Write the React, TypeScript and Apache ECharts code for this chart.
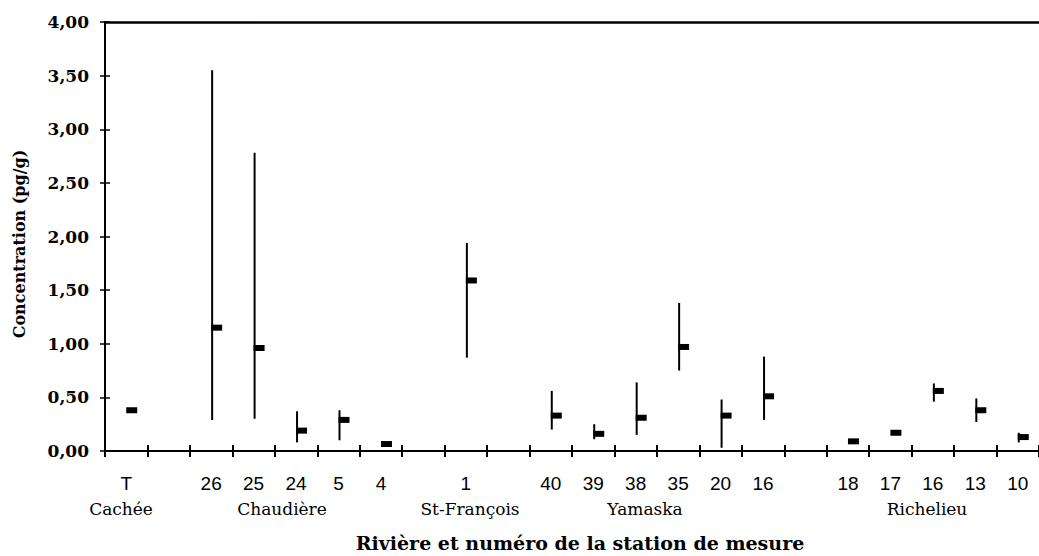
import React, { useEffect, useRef } from "react";
import * as echarts from "echarts";

// Station labels on the x axis (empty = gap slot)
const stations = ["T", "", "26", "25", "24", "5", "4", "", "1", "", "40", "39", "38", "35", "20", "16", "", "18", "17", "16", "13", "10"];
// Mean concentration (pg/g)
const means = [0.38, null, 1.15, 0.96, 0.19, 0.29, 0.065, null, 1.59, null, 0.33, 0.16, 0.31, 0.97, 0.33, 0.51, null, 0.09, 0.17, 0.56, 0.38, 0.13];
// Minimum and maximum (range)
const mins = [null, null, 0.29, 0.30, 0.08, 0.10, null, null, 0.87, null, 0.20, 0.11, 0.15, 0.75, 0.03, 0.29, null, null, null, 0.46, 0.27, 0.08];
const maxs = [null, null, 3.55, 2.78, 0.37, 0.38, null, null, 1.94, null, 0.56, 0.25, 0.64, 1.38, 0.48, 0.88, null, null, null, 0.63, 0.49, 0.17];
// River names
const rivers = ["Cachée", "Chaudière", "St-François", "Yamaska", "Richelieu"];
const yTicks = [0, 0.5, 1, 1.5, 2, 2.5, 3, 3.5, 4];

// layout (pixels)
const riverX = [121, 282, 470, 645, 927];
const GRID = { left: 105, top: 22, width: 944, height: 429 };

export default function App() {
  const ref = useRef<HTMLDivElement>(null);
  useEffect(() => {
    if (!ref.current) return;
    const chart = echarts.init(ref.current, null, { renderer: "svg" });
    const cats = stations.map((_, i) => "c" + i);
    const data: any[] = [];
    means.forEach((m, i) => {
      if (m == null) return;
      const lo = mins[i] == null ? m : mins[i];
      const hi = maxs[i] == null ? m : maxs[i];
      data.push([i, m, lo, hi]);
    });
    const serif = "'DejaVu Serif', 'Liberation Serif', serif";
    const sans = "'Liberation Sans', Arial, sans-serif";
    const baseX = {
      type: "category",
      data: cats,
      boundaryGap: true,
    };
    chart.setOption({
      animation: false,
      backgroundColor: "#fff",
      grid: { ...GRID, containLabel: false },
      xAxis: [
        {
          ...baseX,
          position: "bottom",
          axisLine: { show: true, lineStyle: { color: "#000", width: 2 } },
          axisTick: { show: true, inside: false, length: 6, lineStyle: { color: "#000", width: 2 }, interval: 0 },
          axisLabel: {
            interval: 0,
            margin: 23,
            color: "#000",
            fontFamily: sans,
            fontSize: 19,
            formatter: (_v: string, i: number) => stations[i],
          },
          splitLine: { show: false },
        },
        {
          ...baseX,
          position: "bottom",
          axisLine: { show: false },
          axisTick: { show: true, inside: true, length: 6, lineStyle: { color: "#000", width: 2 }, interval: 0 },
          axisLabel: { show: false },
          splitLine: { show: false },
        },
        {
          ...baseX,
          position: "top",
          axisLine: { show: true, lineStyle: { color: "#000", width: 2.5 } },
          axisTick: { show: false },
          axisLabel: { show: false },
          splitLine: { show: false },
        },
      ],
      yAxis: [
        {
          type: "value",
          min: yTicks[0],
          max: yTicks[yTicks.length - 1],
          interval: 0.5,
          axisLine: { show: true, lineStyle: { color: "#000", width: 2 } },
          axisTick: { show: true, inside: false, length: 5, lineStyle: { color: "#000", width: 1.5 } },
          axisLabel: {
            margin: 16,
            color: "#000",
            fontFamily: serif,
            fontWeight: "bold",
            fontSize: 17,
            formatter: (v: number) => v.toFixed(2).replace(".", ","),
          },
          splitLine: { show: false },
        },
        {
          type: "value",
          position: "left",
          min: yTicks[0],
          max: yTicks[yTicks.length - 1],
          interval: 0.5,
          axisLine: { show: false },
          axisTick: { show: true, inside: true, length: 5, lineStyle: { color: "#000", width: 1.5 } },
          axisLabel: { show: false },
          splitLine: { show: false },
        },
      ],
      graphic: [
        ...rivers.map((name, i) => ({
          type: "text",
          x: riverX[i],
          y: 509,
          style: {
            text: name,
            fill: "#000",
            font: `17px ${serif}`,
            textAlign: "center",
            textVerticalAlign: "middle",
          },
        })),
        {
          type: "text",
          x: 580,
          y: 543,
          style: {
            text: "Rivière et numéro de la station de mesure",
            fill: "#000",
            font: `bold 19px ${serif}`,
            textAlign: "center",
            textVerticalAlign: "middle",
          },
        },
        {
          type: "text",
          x: 19,
          y: 244,
          rotation: Math.PI / 2,
          style: {
            text: "Concentration (pg/g)",
            fill: "#000",
            font: `bold 16px ${serif}`,
            textAlign: "center",
            textVerticalAlign: "middle",
          },
        },
      ],
      series: [
        {
          type: "custom",
          xAxisIndex: 0,
          yAxisIndex: 0,
          data,
          clip: false,
          renderItem: (_params: any, api: any) => {
            const i = api.value(0);
            const m = api.value(1);
            const lo = api.value(2);
            const hi = api.value(3);
            const c = api.coord([i, m]);
            const children: any[] = [];
            if (hi > lo) {
              const p1 = api.coord([i, lo]);
              const p2 = api.coord([i, hi]);
              children.push({
                type: "line",
                shape: { x1: p1[0] + 1, y1: p1[1], x2: p2[0] + 1, y2: p2[1] },
                style: { stroke: "#000", lineWidth: 2 },
              });
            }
            children.push({
              type: "rect",
              shape: { x: c[0], y: c[1] - 3, width: 11, height: 6 },
              style: { fill: "#000" },
            });
            return { type: "group", children };
          },
        },
      ],
    });
    return () => chart.dispose();
  }, []);
  return (
    <div
      ref={ref}
      style={{ position: "fixed", left: 0, top: 0, width: 1039, height: 556, background: "#fff" }}
    />
  );
}
